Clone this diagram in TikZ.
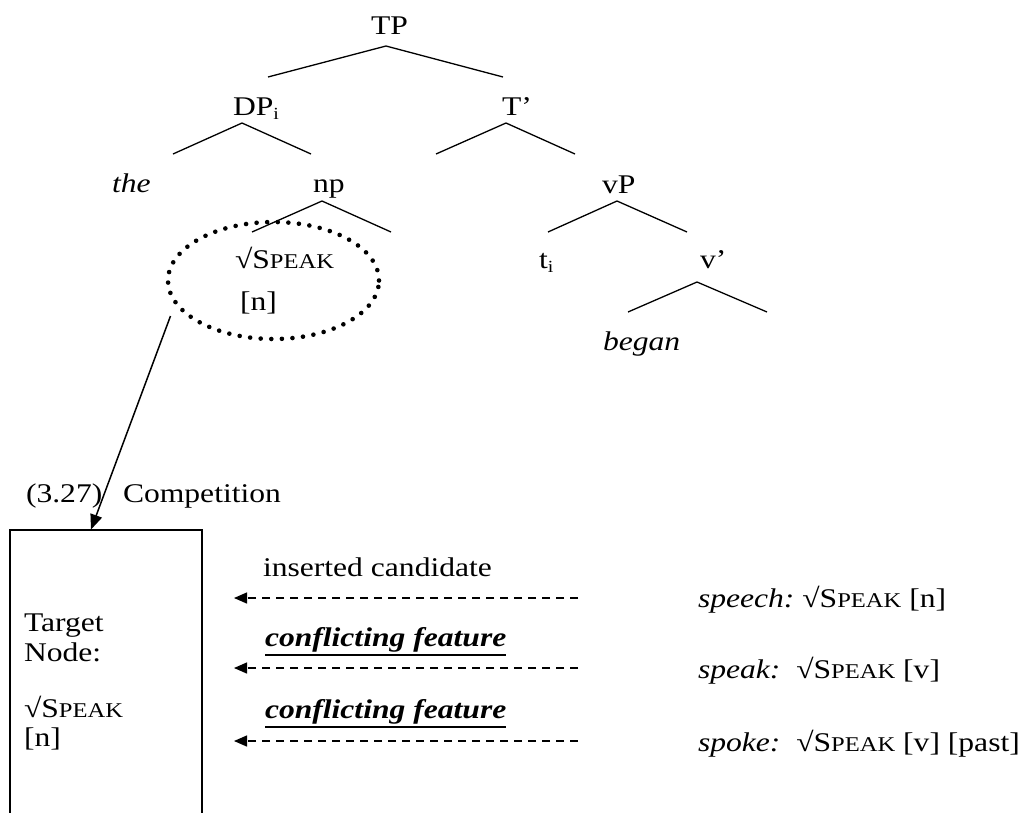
\documentclass[tikz,border=0pt]{standalone}
\usepackage{fontspec}
\setmainfont{Liberation Serif}[FakeStretch=1.17]
\usetikzlibrary{arrows.meta,shapes.geometric}
\newcommand{\SPK}{√S{\fontsize{21}{24}\selectfont PEAK}}
\newcommand{\subi}{{\fontsize{17}{17}\selectfont\raisebox{-4pt}{i}}}
\tikzset{
  txt/.style={inner sep=0pt, outer sep=0pt, anchor=base west, font=\fontsize{27}{31}\selectfont},
  branch/.style={line width=1.3pt},
  dotring/.style={draw, ellipse, line width=4.6pt, line cap=round, dash pattern=on 0pt off 10.6pt},
  dasharrow/.style={line width=1.3pt, dash pattern=on 8.5pt off 5.5pt, -{Triangle[length=13pt,width=11pt]}},
  bigarrow/.style={line width=1.5pt, -{Triangle[length=15pt,width=12pt]}},
  uline/.style={line width=2.5pt}
}
\begin{document}
\begin{tikzpicture}[x=1pt,y=-1pt]
\useasboundingbox (0,0) rectangle (1024,812);
% tree labels
\node[txt] (TP) at (371,34) {TP};
\node[txt] (DP) at (233,115) {DP\subi};
\node[txt] (Tb) at (502,115) {T’};
\node[txt] (the) at (112,192) {\itshape the};
\node[txt] (np) at (313,192) {np};
\node[txt] (vP) at (602,193) {vP};
\node[txt] (spk) at (235,268) {\SPK};
\node[txt] (nn) at (240,310) {[n]};
\node[txt] (ti) at (539,268) {t\subi};
\node[txt] (vb) at (700,268) {v’};
\node[txt] (began) at (603,350) {\itshape began};
% tree branch points
\coordinate (tpA) at (386,46); \coordinate (tpL) at (268,77); \coordinate (tpR) at (503,77);
\coordinate (dpA) at (242,123); \coordinate (dpL) at (173,154); \coordinate (dpR) at (311,154);
\coordinate (tbA) at (506,123); \coordinate (tbL) at (436,154); \coordinate (tbR) at (575,154);
\coordinate (npA) at (322,201); \coordinate (npL) at (252,232); \coordinate (npR) at (391,232);
\coordinate (vpA) at (617,201); \coordinate (vpL) at (548,232); \coordinate (vpR) at (687,232);
\coordinate (vbA) at (697,282); \coordinate (vbL) at (628,312); \coordinate (vbR) at (767,312);
\draw[branch] (tpL) -- (tpA) -- (tpR);
\draw[branch] (dpL) -- (dpA) -- (dpR);
\draw[branch] (tbL) -- (tbA) -- (tbR);
\draw[branch] (npL) -- (npA) -- (npR);
\draw[branch] (vpL) -- (vpA) -- (vpR);
\draw[branch] (vbL) -- (vbA) -- (vbR);
% dotted ellipse
\node[dotring, minimum width=211pt, minimum height=117pt, inner sep=0pt] (ring) at (273.5,280.5) {};
% competition
\node[txt] (num) at (26,502) {(3.27)};
\node[txt] (comp) at (123,502) {Competition};
% box
\coordinate (boxtop) at (91,529.5);
\draw[line width=2pt] (10,815) -- (10,529.5) -- (201.7,529.5) -- (201.7,815);
\coordinate (arrstart) at (170.5,316);
\draw[bigarrow] (arrstart) -- (boxtop);
\node[txt] (tg1) at (24,631) {Target};
\node[txt] (tg2) at (24,661) {Node:};
\node[txt] (tg3) at (24,717) {\SPK};
\node[txt] (tg4) at (24,746) {[n]};
% candidates
\node[txt] (ins) at (263,576) {inserted candidate};
\node[txt] (cf1) at (265,646) {\bfseries\itshape conflicting feature};
\node[txt] (cf2) at (265,718) {\bfseries\itshape conflicting feature};
\draw[uline] ([yshift=-9pt]cf1.base west) -- ([yshift=-9pt]cf1.base east);
\draw[uline] ([yshift=-9pt]cf2.base west) -- ([yshift=-9pt]cf2.base east);
\coordinate (a1s) at (578,598); \coordinate (a1e) at (234,598);
\coordinate (a2s) at (578,668); \coordinate (a2e) at (234,668);
\coordinate (a3s) at (578,741); \coordinate (a3e) at (234,741);
\draw[dasharrow] (a1s) -- (a1e);
\draw[dasharrow] (a2s) -- (a2e);
\draw[dasharrow] (a3s) -- (a3e);
\node[txt] (c1) at (698,607) {\itshape speech:\ \normalfont\SPK\ [n]};
\node[txt] (c2) at (698,678) {\itshape speak:\ \ \normalfont\SPK\ [v]};
\node[txt] (c3) at (698,751) {\itshape spoke:\ \ \normalfont\SPK\ [v] [past]};
\end{tikzpicture}
\end{document}
